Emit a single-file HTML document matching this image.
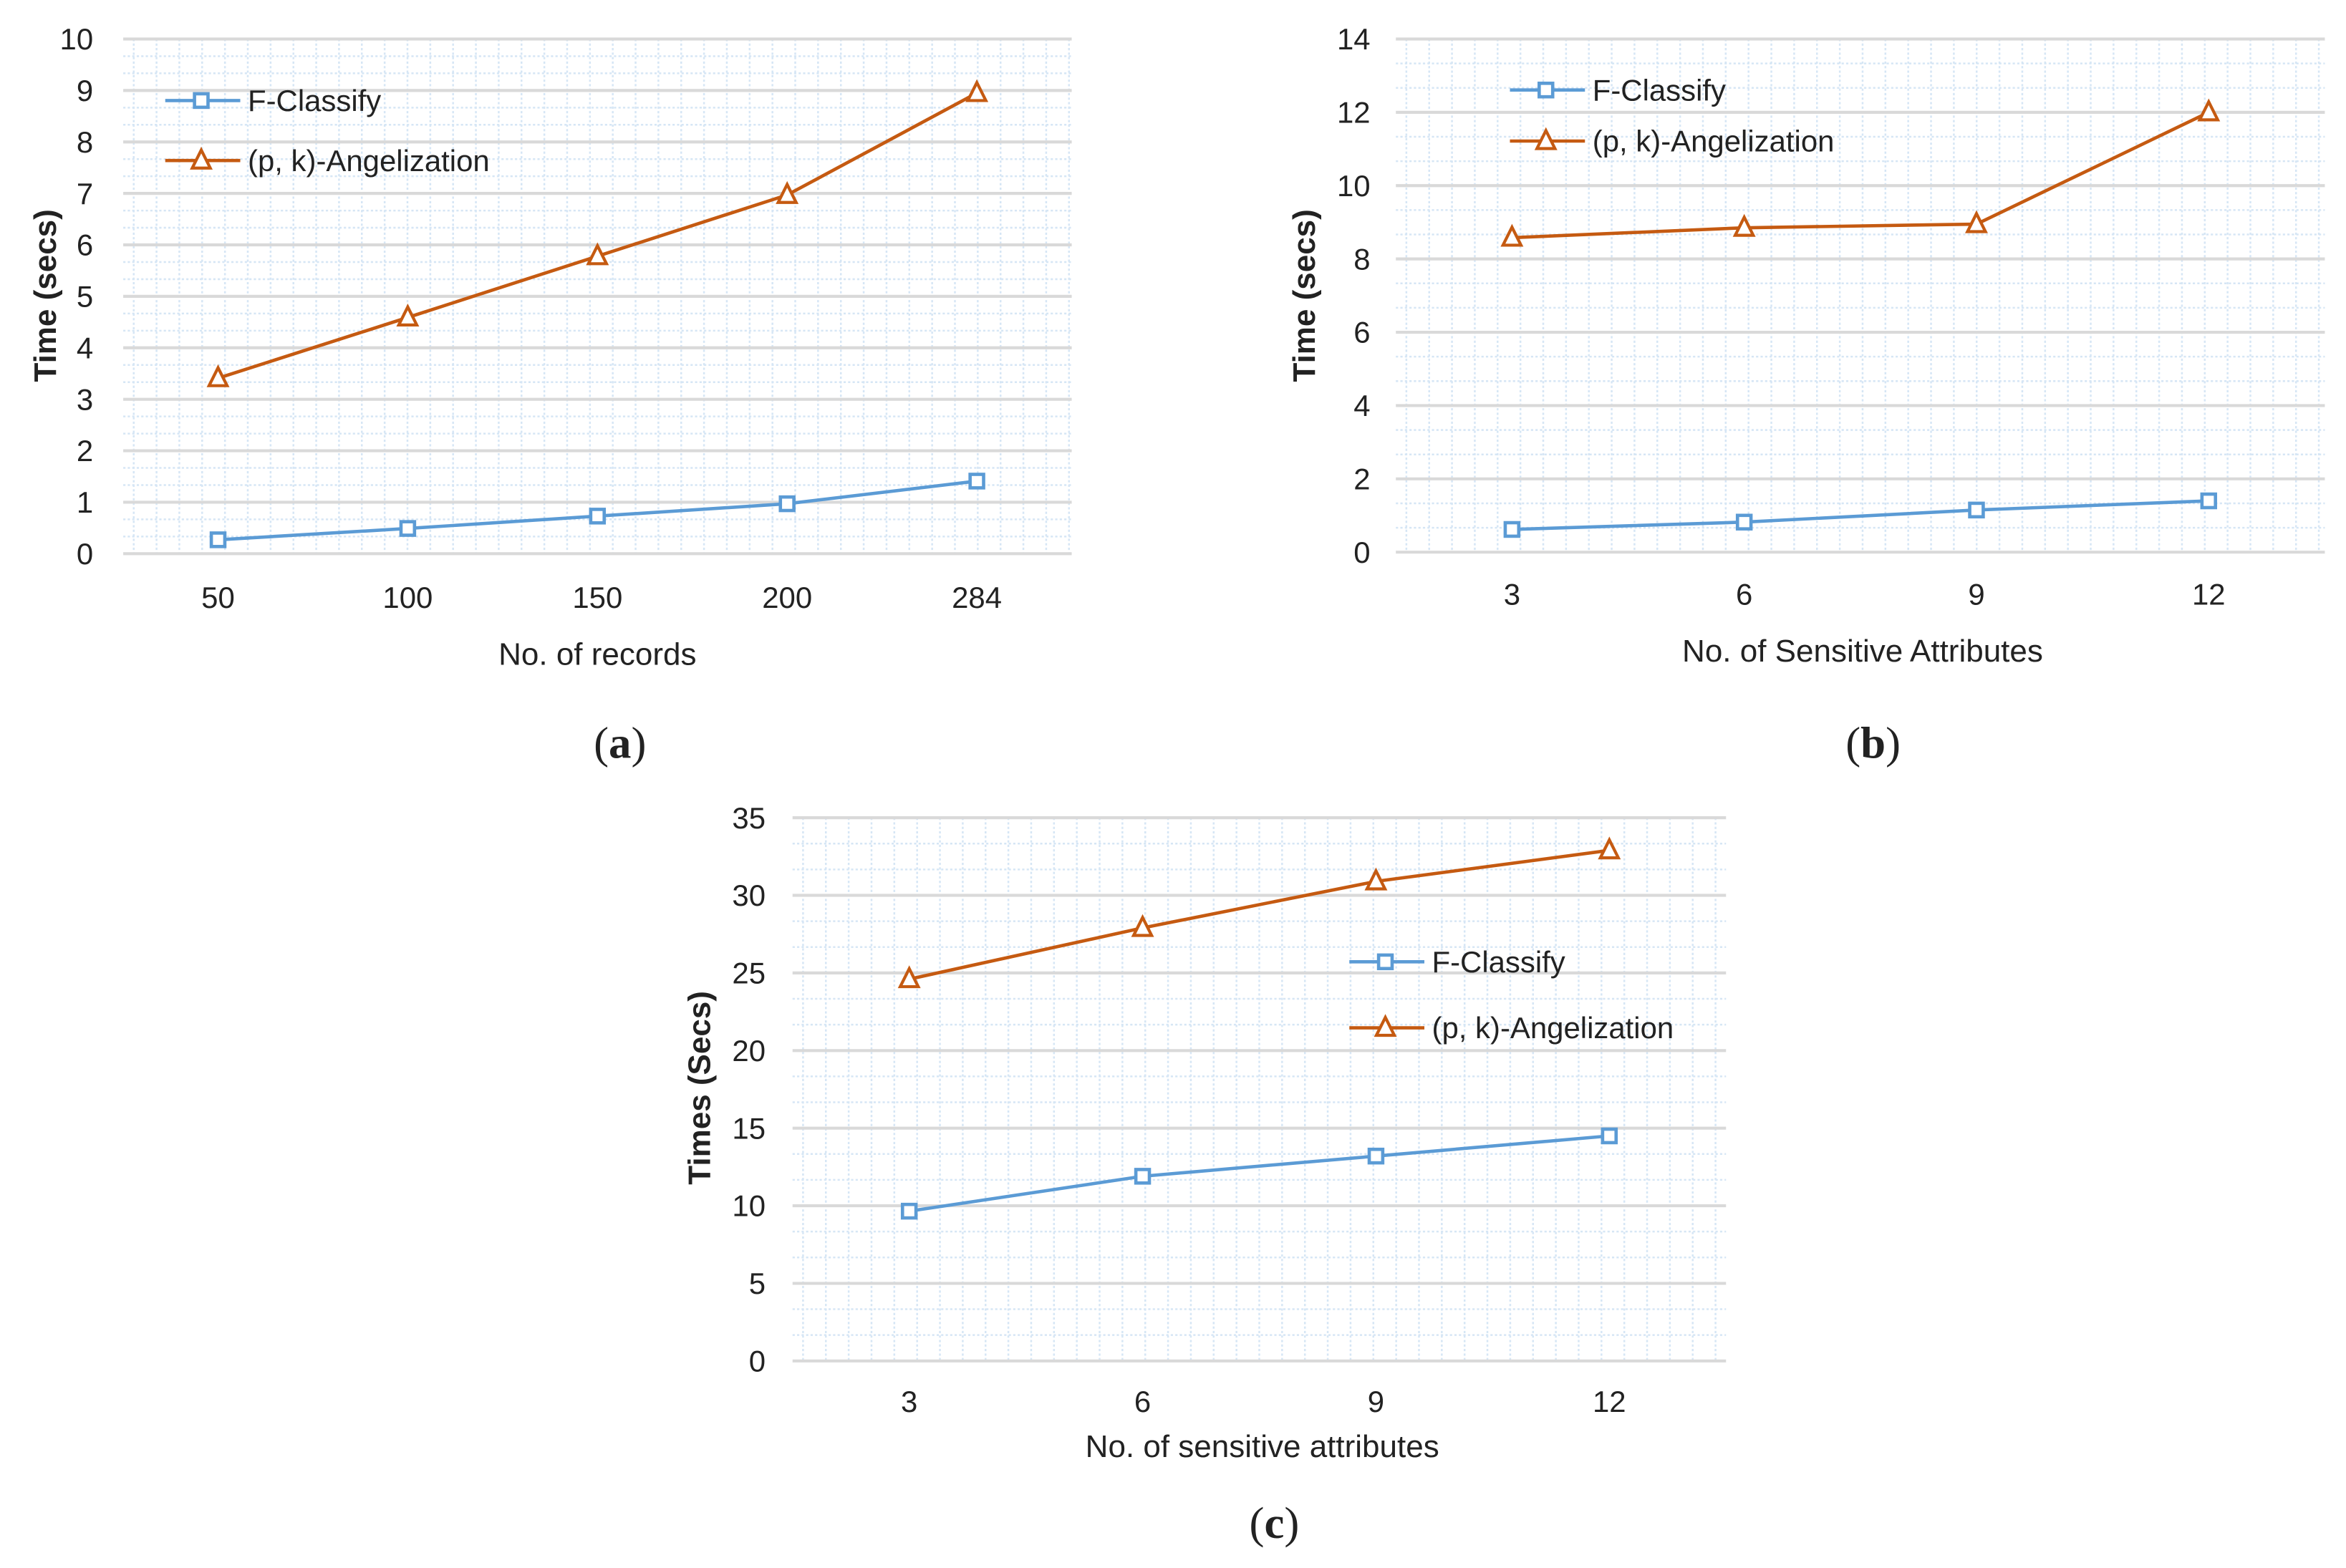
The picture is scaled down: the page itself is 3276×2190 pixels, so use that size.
<!DOCTYPE html>
<html><head><meta charset="utf-8"><style>
html,body{margin:0;padding:0;background:#fff;}
svg{display:block;}
text{font-family:"Liberation Sans",sans-serif;fill:#222;}
</style></head><body>
<svg id="fig" width="3276" height="2190" viewBox="0 0 1563 1045" xmlns="http://www.w3.org/2000/svg"></svg>
<script>
// ---- Chart (a) data ----
const aCategories = ["50","100","150","200","284"];
const aFClassify = [0.27,0.49,0.73,0.97,1.41];
const aAngelization = [3.41,4.59,5.78,6.97,8.95];
const aTicks = [0,1,2,3,4,5,6,7,8,9,10];
// ---- Chart (b) data ----
const bCategories = ["3","6","9","12"];
const bFClassify = [0.62,0.82,1.15,1.4];
const bAngelization = [8.58,8.85,8.95,12.0];
const bTicks = [0,2,4,6,8,10,12,14];
// ---- Chart (c) data ----
const cCategories = ["3","6","9","12"];
const cFClassify = [9.65,11.9,13.2,14.5];
const cAngelization = [24.6,27.9,30.9,32.9];
const cTicks = [0,5,10,15,20,25,30,35];

const NS = "http://www.w3.org/2000/svg";
const svg = document.getElementById('fig');
function mk(tag, attrs, parent){
  const e = document.createElementNS(NS, tag);
  for (const k in attrs) e.setAttribute(k, attrs[k]);
  (parent||svg).appendChild(e);
  return e;
}
const BLUE = "#5b9bd5", ORANGE = "#c55a11";

function chart(cfg, cats, s1, s2, ticks){
  const g = mk('g', {});
  
  
  const {L,R,T,B} = cfg;
  const ymax = ticks[ticks.length-1], ymin = ticks[0];
  const y = v => B - (v - ymin)/(ymax - ymin)*(B - T);
  const bw = (R - L)/cats.length;
  const x = i => L + bw*(i+0.5);
  const major = (B-T)/(ticks.length-1);
  for (let i=0;i<ticks.length-1;i++){
    for (let k=1;k<3;k++){
      const yy = B - major*i - major*k/3;
      const l = mk('line',{x1:L,x2:R,y1:yy,y2:yy,stroke:"#d6e6f5","stroke-width":1.2,"stroke-dasharray":"1.5 1.5"},g);
      
      
    }
  }
  for (let xx=L+7; xx<R; xx+=15.2){
    const l = mk('line',{x1:xx,x2:xx,y1:T,y2:B,stroke:"#d6e6f5","stroke-width":1.2,"stroke-dasharray":"1.5 1.5"},g);
    
    
  }
  ticks.forEach(t=>{
    const gl = mk('line',{x1:L,x2:R,y1:y(t),y2:y(t),stroke:"#d9d9d9","stroke-width":2},g);
    
    
    const tl = mk('text',{x:cfg.tickX,y:y(t)+7,"text-anchor":"end","font-size":20},g);
    tl.textContent = t;
    
    
  });
  cats.forEach((c,i)=>{
    const tl = mk('text',{x:x(i),y:cfg.xLabY,"text-anchor":"middle","font-size":20},g);
    tl.textContent = c;
    
    
  });
  const xt = mk('text',{x:cfg.xTitleX,y:cfg.xTitleY,"text-anchor":"middle","font-size":21},g);
  xt.textContent = cfg.xTitle;
  
  
  const yt = mk('text',{x:0,y:0,"text-anchor":"middle","font-size":21,"font-weight":"bold",transform:`translate(${cfg.yTitleX},${cfg.yTitleY}) rotate(-90)`},g);
  yt.textContent = cfg.yTitle;
  
  
  function series(vals, color, shape, nm){
    const sg = mk('g',{},g);
    
    
    const pts = vals.map((v,i)=>x(i)+","+y(v)).join(" ");
    const pl = mk('polyline',{points:pts,fill:"none",stroke:color,"stroke-width":2.2},sg);
    
    
    vals.forEach((v,i)=>marker(sg, x(i), y(v), color, shape, nm+'-point'));
  }
  function marker(parent, cx, cy, color, shape, nm){
    let m;
    if (shape==='sq') m = mk('rect',{x:cx-4.5,y:cy-4.5,width:9,height:9,fill:"#fff",stroke:color,"stroke-width":2.2},parent);
    else m = mk('polygon',{points:`${cx},${cy-7} ${cx-6},${cy+5} ${cx+6},${cy+5}`,fill:"#fff",stroke:color,"stroke-width":2},parent);
    
    
  }
  series(s1, BLUE, 'sq', 'f-classify-series');
  series(s2, ORANGE, 'tri', 'angelization-series');
  const lg = mk('g',{},g);
  
  
  [[BLUE,'sq','F-Classify',cfg.legY1],[ORANGE,'tri','(p, k)-Angelization',cfg.legY2]].forEach(([c,s,lab,ly])=>{
    const ll = mk('line',{x1:cfg.legX,x2:cfg.legX+50,y1:ly,y2:ly,stroke:c,"stroke-width":2.2},lg);
    
    
    marker(lg, cfg.legX+24, ly, c, s, 'legend-marker');
    const lt = mk('text',{x:cfg.legX+55,y:ly+7,"font-size":20},lg);
    lt.textContent = lab;
    
    
  });
  const cap = mk('text',{x:cfg.capX,y:cfg.capY,"text-anchor":"middle","font-size":30,style:'font-family:"Liberation Serif",serif'},g);
  cap.innerHTML = '(<tspan font-weight="bold">'+cfg.cap+'</tspan>)';
  
  
}

chart({name:'chart-a',L:82,R:714,T:26,B:369,tickX:62,xLabY:405,xTitle:'No. of records',xTitleX:398,xTitleY:443,yTitle:'Time (secs)',yTitleX:37,yTitleY:197,legX:110,legY1:67,legY2:107,capX:413,capY:505,cap:'a'},aCategories,aFClassify,aAngelization,aTicks);
chart({name:'chart-b',L:930,R:1549,T:26,B:368,tickX:913,xLabY:403,xTitle:'No. of Sensitive Attributes',xTitleX:1241,xTitleY:441,yTitle:'Time (secs)',yTitleX:876,yTitleY:197,legX:1006,legY1:60,legY2:94,capX:1248,capY:505,cap:'b'},bCategories,bFClassify,bAngelization,bTicks);
chart({name:'chart-c',L:528,R:1150,T:545,B:907,tickX:510,xLabY:941,xTitle:'No. of sensitive attributes',xTitleX:841,xTitleY:971,yTitle:'Times (Secs)',yTitleX:473,yTitleY:725,legX:899,legY1:641,legY2:685,capX:849,capY:1025,cap:'c'},cCategories,cFClassify,cAngelization,cTicks);
</script>
</body></html>
